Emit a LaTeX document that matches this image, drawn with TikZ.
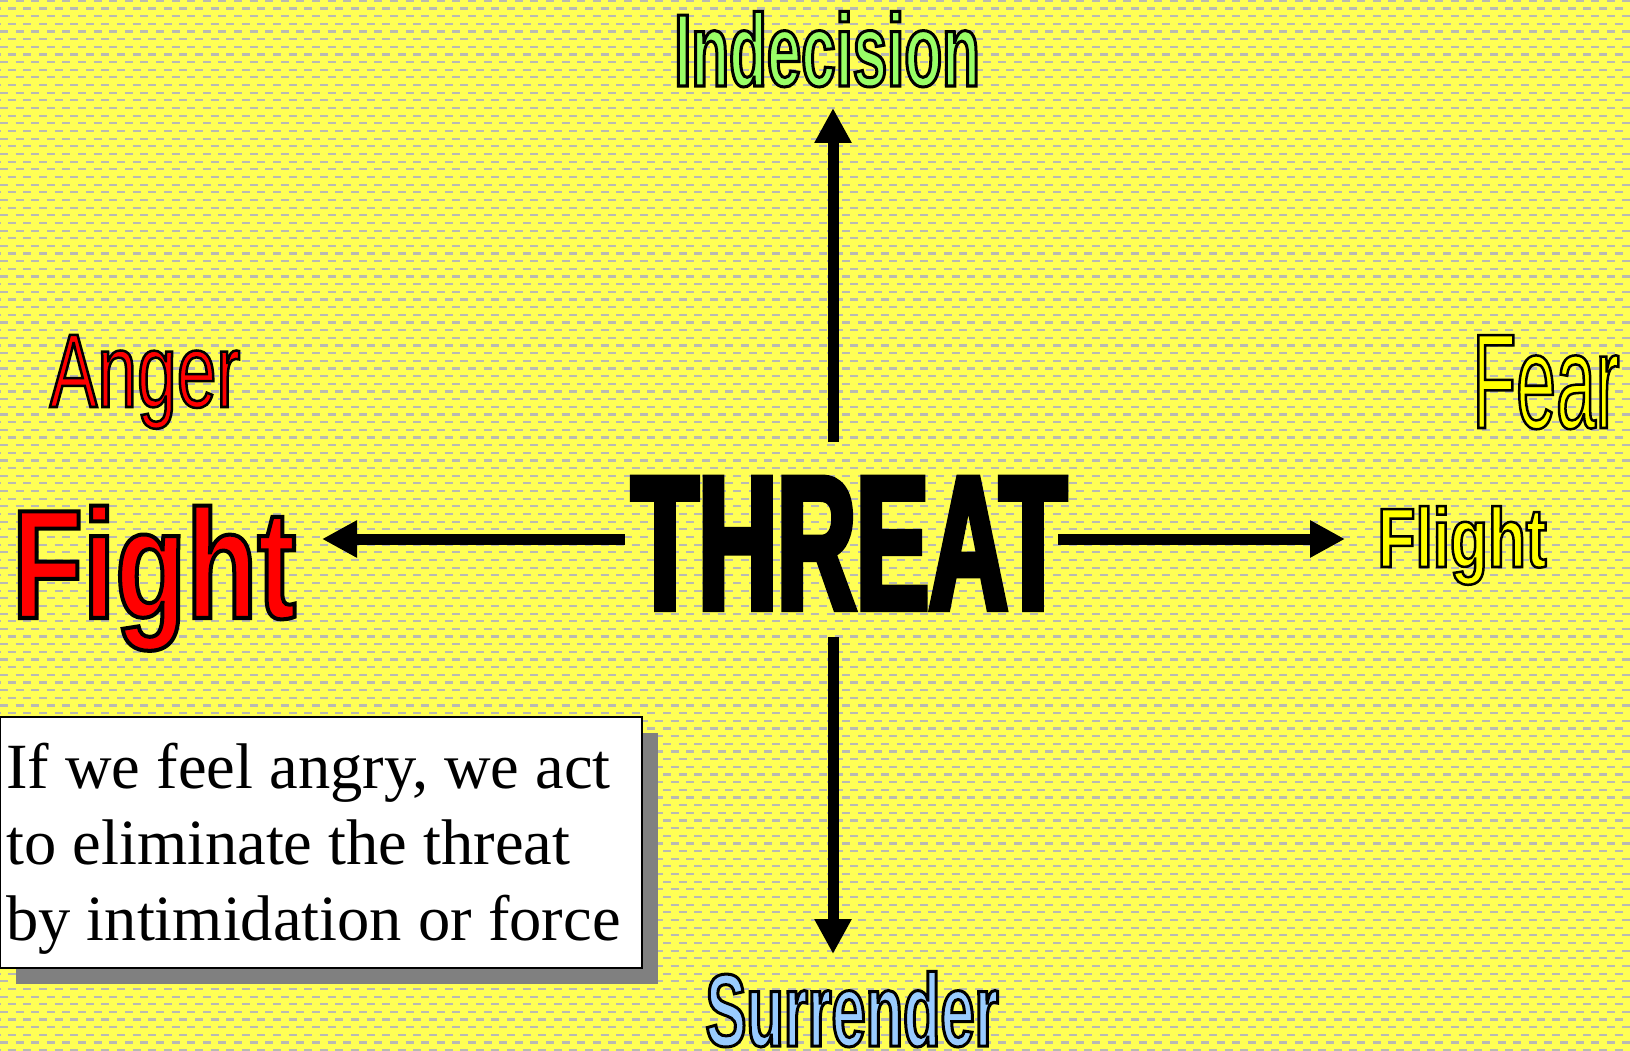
\documentclass[tikz,border=0pt]{standalone}
\usepackage{fontspec}
\setmainfont{Liberation Serif}
\usetikzlibrary{arrows.meta,shadows}
\definecolor{bgyellow}{RGB}{255,255,85}
\definecolor{dashgray}{RGB}{185,185,178}
\definecolor{indecgreen}{RGB}{153,255,102}
\definecolor{surrblue}{RGB}{153,204,255}
\definecolor{angerred}{RGB}{255,0,0}
\definecolor{fearyellow}{RGB}{255,255,0}
\definecolor{shadowgray}{RGB}{128,128,128}
% condensed sans, stretch and size
\newcommand\condfont[2]{\fontspec{Liberation Sans}[FakeStretch=#1]\fontsize{#2}{#2}\selectfont}
% text drawn with a black outline
\newcommand\outl[2]{\special{pdf:literal direct 0 0 0 RG 0 j 4 M #1 w 2 Tr}#2\special{pdf:literal direct 0 Tr}}

\begin{document}
\begin{tikzpicture}[x=1pt,y=-1pt,
  lbl/.style={inner sep=0pt,anchor=base},
  arr/.style={line width=11pt,-{Triangle[length=35pt,width=35pt]}},
  dashrow/.style={dashgray,line width=2.2pt,dash pattern=on 8pt off 7.6pt},
  notebox/.style={draw=black,line width=2pt,fill=white,inner sep=0pt,anchor=north west,
    minimum width=642pt,minimum height=251pt,
    drop shadow={shadow xshift=16pt,shadow yshift=-16pt,fill=shadowgray,opacity=1}},
  notetext/.style={inner sep=0pt,anchor=base west,align=left,font=\fontsize{64.5}{76}\selectfont}]
\useasboundingbox (0,0) rectangle (1630,1051);
% background
\fill[bgyellow] (0,0) rectangle (1630,1051);
\foreach \r in {0,...,137} {
  \pgfmathsetmacro\yy{0.8+\r*7.66}
  \pgfmathsetmacro\ph{mod(\r,2)*7.8}
  \draw[dashrow,dash phase=\ph pt] (0,\yy) -- (1630,\yy);
}
% labels
\node[lbl,text=black,font=\condfont{0.572}{191}\bfseries] (threat) at (849,609) {\outl{6}{THREAT}};
\node[lbl,text=indecgreen,font=\condfont{0.6}{103}\bfseries] (indec) at (827,86) {\outl{3}{Indecision}};
\node[lbl,text=surrblue,font=\condfont{0.595}{103}\bfseries] (surr) at (852,1046) {\outl{3}{Surrender}};
\node[lbl,text=angerred,font=\condfont{0.75}{155}\bfseries] (fight) at (154,618) {\outl{4}{Fight}};
\node[lbl,text=fearyellow,font=\condfont{0.74}{84}\bfseries] (flight) at (1462,567) {\outl{2.5}{Flight}};
\node[lbl,text=angerred,font=\condfont{0.68}{105}] (anger) at (145,407) {\outl{2.5}{Anger}};
\node[lbl,text=fearyellow,font=\condfont{0.53}{135}] (fear) at (1546,428) {\outl{2.5}{Fear}};
% arrows
\coordinate (upS) at (833,442);
\coordinate (upE) at (833,108);
\coordinate (downS) at (833,637);
\coordinate (downE) at (833,954);
\coordinate (leftS) at (625,539);
\coordinate (leftE) at (322,539);
\coordinate (rightS) at (1058,539);
\coordinate (rightE) at (1345,539);
\draw[arr] (upS) -- (upE);
\draw[arr] (downS) -- (downE);
\draw[arr] (leftS) -- (leftE);
\draw[arr] (rightS) -- (rightE);
% note
\node[notebox] (note) at (-1,716) {};
\node[notetext] (notetxt) at (6,940) {If we feel angry, we act\\to eliminate the threat\\by intimidation or force};
\end{tikzpicture}
\end{document}
